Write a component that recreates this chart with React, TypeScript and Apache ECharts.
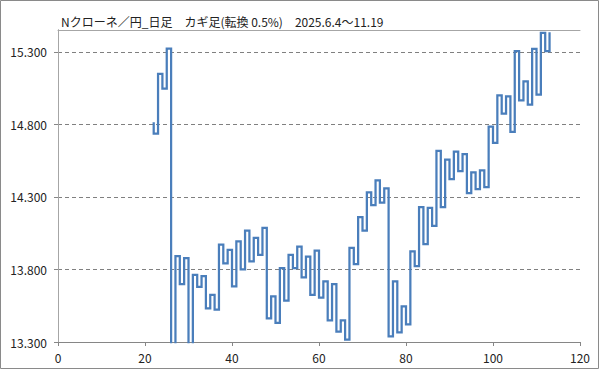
import React, { useEffect, useRef } from "react";
import * as echarts from "echarts";

const chartTitle = "Nクローネ／円_日足　カギ足(転換 0.5%)　2025.6.4～11.19";

// Kagi line: vertical strokes at x = kagiStartX + i, reaching kagiLevels[i]
const kagiStartX = 22;
const kagiStartValue = 14.815;
const kagiLevels = [
  14.736, 15.147, 15.046, 15.322, 13.2, 13.892, 13.698, 13.878, 13.2, 13.763,
  13.68, 13.754, 13.532, 13.625, 13.523, 13.971, 13.842, 13.934, 13.684, 13.994,
  13.8, 14.068, 13.855, 14.017, 13.901, 14.086, 13.463, 13.615, 13.431, 13.809,
  13.585, 13.901, 13.809, 13.957, 13.745, 13.888, 13.625, 13.929, 13.606, 13.717,
  13.449, 13.698, 13.371, 13.449, 13.316, 13.948, 13.837, 14.16, 14.067, 14.331,
  14.243, 14.414, 14.261, 14.358, 13.338, 13.717, 13.366, 13.546, 13.421, 13.925,
  13.823, 14.229, 13.975, 14.224, 14.1, 14.617, 14.229, 14.557, 14.423, 14.612,
  14.478, 14.594, 14.326, 14.469, 14.354, 14.483, 14.367, 14.785, 14.672, 14.999,
  14.873, 14.992, 14.748, 15.304, 14.965, 15.096, 14.935, 15.32, 15.004, 15.431,
  15.304, 15.435,
];

const xMin = 0;
const xMax = 120;
const xInterval = 20;
const yMin = 13.3;
const yMax = 15.45;
const yInterval = 0.5;

function buildPoints(): number[][] {
  const pts: number[][] = [[kagiStartX, kagiStartValue]];
  kagiLevels.forEach((v, i) => {
    const x = kagiStartX + i;
    pts.push([x, v]);
    if (i < kagiLevels.length - 1) pts.push([x + 1, v]);
  });
  return pts;
}

const FONT = "'Noto Sans CJK JP', 'Noto Sans', sans-serif";

export default function App() {
  const ref = useRef<HTMLDivElement>(null);
  useEffect(() => {
    if (!ref.current) return;
    const chart = echarts.init(ref.current, undefined, { renderer: "svg" });
    const axisGray = "#868686";
    const labelStyle = { fontSize: 12, color: "#222", fontFamily: FONT };
    chart.setOption({
      animation: false,
      backgroundColor: "#ffffff",
      grid: { left: 58, right: 19, top: 30, bottom: 27, containLabel: false },
      graphic: [
        {
          type: "rect",
          shape: { x: 0.5, y: 0.5, width: 598, height: 368 },
          style: { fill: "none", stroke: "#8a8a8a", lineWidth: 1 },
          silent: true,
        },
        {
          type: "text",
          x: 61,
          y: 21,
          style: {
            text: chartTitle,
            font: `12px ${FONT}`,
            fill: "#222",
            verticalAlign: "middle",
          },
          silent: true,
        },
      ],
      xAxis: [
        {
          type: "value",
          min: xMin,
          max: xMax,
          interval: xInterval,
          axisLine: { show: true, lineStyle: { color: axisGray, width: 1 } },
          axisTick: { show: true, length: 4, lineStyle: { color: axisGray } },
          axisLabel: { ...labelStyle, margin: 9 },
          splitLine: { show: false },
        },
        {
          type: "value",
          position: "top",
          min: xMin,
          max: xMax,
          axisLine: { show: true, lineStyle: { color: "#a6a6a6", width: 1 } },
          axisTick: { show: false },
          axisLabel: { show: false },
          splitLine: { show: false },
        },
      ],
      yAxis: [
        {
          type: "value",
          min: yMin,
          max: yMax,
          interval: yInterval,
          axisLine: { show: true, lineStyle: { color: axisGray, width: 1 } },
          axisTick: { show: true, length: 4, lineStyle: { color: axisGray } },
          axisLabel: {
            ...labelStyle,
            margin: 11,
            showMaxLabel: false,
            formatter: (v: number) => v.toFixed(3),
          },
          splitLine: {
            show: true,
            lineStyle: { color: "#808080", type: [4, 3], width: 1 },
          },
        },
        {
          type: "value",
          position: "right",
          min: yMin,
          max: yMax,
          axisLine: { show: true, lineStyle: { color: "#a6a6a6", width: 1 } },
          axisTick: { show: false },
          axisLabel: { show: false },
          splitLine: { show: false },
        },
      ],
      series: [
        {
          type: "line",
          xAxisIndex: 0,
          yAxisIndex: 0,
          data: buildPoints(),
          showSymbol: false,
          symbol: "none",
          clip: true,
          lineStyle: { color: "#4a7ebb", width: 2.25, join: "miter" },
          z: 5,
        },
      ],
    });
    return () => chart.dispose();
  }, []);
  return (
    <div
      ref={ref}
      style={{ position: "absolute", left: 0, top: 0, width: 599, height: 369 }}
    />
  );
}
